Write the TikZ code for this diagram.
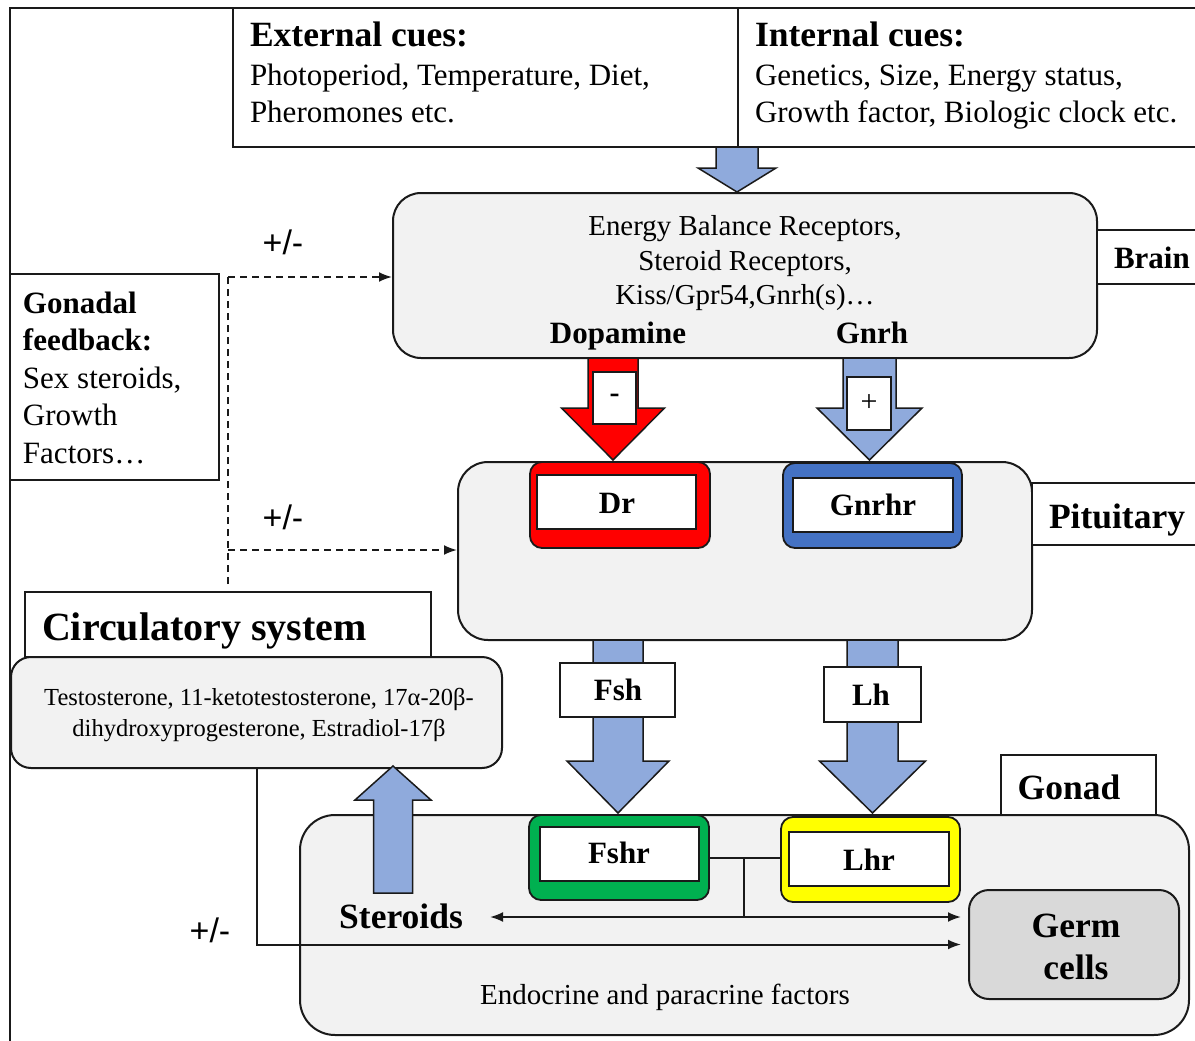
\documentclass[tikz,border=0pt]{standalone}
\usepackage{fontspec}
\setmainfont{Liberation Serif}
\newfontfamily\sansf{Liberation Sans}
\usetikzlibrary{arrows.meta}
\definecolor{boxgray}{HTML}{F2F2F2}
\definecolor{germgray}{HTML}{D9D9D9}
\definecolor{arrblue}{HTML}{8FAADC}
\definecolor{recblue}{HTML}{4472C4}
\definecolor{recgreen}{HTML}{00B050}
\definecolor{recred}{HTML}{FF0000}
\definecolor{recyellow}{HTML}{FFFF00}
\definecolor{linec}{HTML}{1A1A1A}
\newcommand\setfs[1]{\fontsize{#1}{#1}\selectfont}
% block arrow: style, cx, shaft half, head half, y start, y head base, y tip
\newcommand\blkarrow[7]{\draw[#1] (#2-#3,#5) -- (#2+#3,#5) -- (#2+#3,#6) -- (#2+#4,#6) -- (#2,#7) -- (#2-#4,#6) -- (#2-#3,#6) -- cycle;}
\tikzset{
  box/.style={draw=linec, line width=2, inner sep=0, fill=white},
  gbox/.style={box, fill=boxgray},
  recouter/.style={draw=linec, line width=1.8, inner sep=0, rounded corners=12},
  txt/.style={inner sep=0, outer sep=0},
  body/.style={txt, font=\setfs{31}},
  title/.style={txt, font=\setfs{35.5}\bfseries},
  bld/.style={txt, font=\setfs{31}\bfseries},
  pm/.style={txt, font=\sansf\setfs{34}},
  bluearr/.style={fill=arrblue, draw=linec, line width=1.5},
  redarr/.style={fill=recred, draw=linec, line width=1.5},
  conn/.style={draw=linec, line width=2},
  fbline/.style={draw=linec, line width=2, dash pattern=on 7pt off 5pt},
  tip/.style={-{Latex[length=13,width=10]}},
  dtip/.style={{Latex[length=13,width=10]}-{Latex[length=13,width=10]}},
}
\begin{document}
\begin{tikzpicture}[x=1pt,y=-1pt]
\useasboundingbox (0,0) rectangle (1195,1041);
\fill[white] (0,0) rectangle (1195,1041);
% outer frame
\coordinate (ftr) at (1205,8);
\coordinate (ftl) at (10,8);
\coordinate (fbl) at (10,1050);
\draw[conn] (ftr) -- (ftl) -- (fbl);

% cue boxes
\node[box, minimum width=505, minimum height=139] (ext) at (485.5,77.5) {};
\node[box, minimum width=472, minimum height=139] (int) at (974,77.5) {};
\node[title, anchor=base west] (extT) at (250,47) {External cues:};
\node[body, anchor=base west] (ext1) at (250,85) {Photoperiod, Temperature, Diet,};
\node[body, anchor=base west] (ext2) at (250,122) {Pheromones etc.};
\node[title, anchor=base west] (intT) at (755,47) {Internal cues:};
\node[body, anchor=base west] (int1) at (755,85) {Genetics, Size, Energy status,};
\node[body, anchor=base west] (int2) at (755,122) {Growth factor, Biologic clock etc.};
\blkarrow{bluearr}{737}{21}{39}{147}{168}{192}

% brain
\node[gbox, rounded corners=28, minimum width=704, minimum height=165] (brain) at (745,275.5) {};
\node[txt, font=\setfs{28.9}, anchor=base] (br1) at (745,235.5) {Energy Balance Receptors,};
\node[txt, font=\setfs{28.9}, anchor=base] (br2) at (745,270.5) {Steroid Receptors,};
\node[txt, font=\setfs{28.9}, anchor=base] (br3) at (745,304.5) {Kiss/Gpr54,Gnrh(s)\dots};
\node[bld, anchor=base] (dop) at (618,343) {Dopamine};
\node[bld, anchor=base] (gnrh) at (872,343) {Gnrh};
\node[box, minimum width=113, minimum height=54] (brainL) at (1153.5,257) {};
\node[bld, anchor=base west] (brainT) at (1114,268) {Brain};

% pituitary
\node[gbox, rounded corners=30, minimum width=574, minimum height=178] (pit) at (745,551) {};
\node[box, minimum width=178, minimum height=62] (pitL) at (1121,514) {};
\node[title, anchor=base west] (pitT) at (1049,528) {Pituitary};

% brain -> pituitary arrows
\blkarrow{redarr}{613}{25}{51.5}{358}{408}{460}
\blkarrow{bluearr}{869.5}{26.5}{52.5}{358}{408}{460}
\node[box, minimum width=43, minimum height=52] (minusB) at (614.5,398) {};
\node[txt, font=\setfs{30}\bfseries] (minusT) at (minusB) {-};
\node[box, minimum width=44, minimum height=53] (plusB) at (869,403.5) {};
\node[txt, font=\setfs{30}] (plusT) at (plusB) {+};

% pituitary receptors
\node[recouter, fill=recred, minimum width=180, minimum height=86] (drO) at (620,505) {};
\node[box, line width=1.6, minimum width=159, minimum height=54] (drI) at (616.5,502) {};
\node[bld, anchor=base] (drT) at (617,513) {Dr};
\node[recouter, fill=recblue, minimum width=179, minimum height=85] (gnO) at (872.5,505.5) {};
\node[box, line width=1.6, minimum width=160, minimum height=54] (gnI) at (873,505) {};
\node[bld, anchor=base] (gnT) at (873,515) {Gnrhr};

% gonad
\node[gbox, rounded corners=35, minimum width=889, minimum height=220] (gonad) at (744.5,925) {};
\node[box, minimum width=155, minimum height=60] (gonL) at (1078.5,785) {};
\node[title, anchor=base] (gonT) at (1069,799) {Gonad};
\node[box, fill=germgray, rounded corners=20, minimum width=210, minimum height=109] (germ) at (1074,944.5) {};
\node[title, anchor=base] (germ1) at (1076,937) {Germ};
\node[title, anchor=base] (germ2) at (1076,979) {cells};
\node[txt, font=\setfs{29}, anchor=base] (endo) at (665,1004) {Endocrine and paracrine factors};
\node[title, anchor=base] (ster) at (401,928) {Steroids};

% pituitary -> gonad arrows
\blkarrow{bluearr}{618}{25}{51}{640}{761}{813}
\blkarrow{bluearr}{872.5}{25.5}{53}{640}{761}{813}
\node[box, minimum width=115, minimum height=54] (fshB) at (617.5,690) {};
\node[bld, anchor=base] (fshT) at (618,700) {Fsh};
\node[box, minimum width=97, minimum height=55] (lhB) at (872.5,694.5) {};
\node[bld, anchor=base] (lhT) at (871,705) {Lh};

% gonad receptors
\node[recouter, fill=recgreen, minimum width=180, minimum height=85] (fshrO) at (619,857.5) {};
\node[box, line width=1.6, minimum width=159, minimum height=54] (fshrI) at (619.5,854) {};
\node[bld, anchor=base] (fshrT) at (619,863) {Fshr};
\node[recouter, fill=recyellow, minimum width=179, minimum height=85] (lhrO) at (870.5,859.5) {};
\node[box, line width=1.6, minimum width=160, minimum height=54] (lhrI) at (869,859) {};
\node[bld, anchor=base] (lhrT) at (869,870) {Lhr};

% circulatory system
\node[box, minimum width=406, minimum height=65] (circL) at (228,624.5) {};
\node[txt, font=\setfs{40}\bfseries, anchor=base west] (circT) at (42,640) {Circulatory system};
\node[gbox, rounded corners=20, minimum width=491, minimum height=111] (circ) at (256.5,712.5) {};
\node[txt, font=\setfs{24.5}, anchor=base] (circ1) at (259,705) {Testosterone, 11-ketotestosterone, 17α-20β-};
\node[txt, font=\setfs{24.5}, anchor=base] (circ2) at (259,736) {dihydroxyprogesterone, Estradiol-17β};

% steroids up arrow
\blkarrow{bluearr}{393}{19.5}{38}{893}{800}{766}

% gonadal feedback box
\node[box, minimum width=209, minimum height=206] (fb) at (114.5,377) {};
\node[bld, anchor=base west] (fb1) at (23,313) {Gonadal};
\node[bld, anchor=base west] (fb2) at (23,350) {feedback:};
\node[body, anchor=base west] (fb3) at (23,388) {Sex steroids,};
\node[body, anchor=base west] (fb4) at (23,425) {Growth};
\node[body, anchor=base west] (fb5) at (23,463) {Factors\dots};

% dashed feedback lines
\coordinate (fbB) at (228,584);
\coordinate (fbT) at (228,277);
\coordinate (fbM) at (228,550);
\draw[fbline] (fbB) -- (fbT);
\draw[fbline, tip] (fbT) -- (fbT -| brain.west);
\draw[fbline, tip] (fbM) -- (fbM -| pit.west);
\node[pm] (pm1) at (283,242) {+/-};
\node[pm] (pm2) at (283,517) {+/-};
\node[pm] (pm3) at (210,930) {+/-};

% solid connectors in gonad
\coordinate (jn) at (744,858);
\coordinate (stR) at (490,917);
\draw[conn] (fshrO.east |- jn) -- (lhrO.west |- jn);
\draw[conn] (jn) -- (jn |- stR);
\draw[conn, dtip, shorten >=7pt] (stR) -- (stR -| germ.west);
\draw[conn, tip, shorten >=7pt] (circ.south) |- (germ.west);
\end{tikzpicture}
\end{document}
